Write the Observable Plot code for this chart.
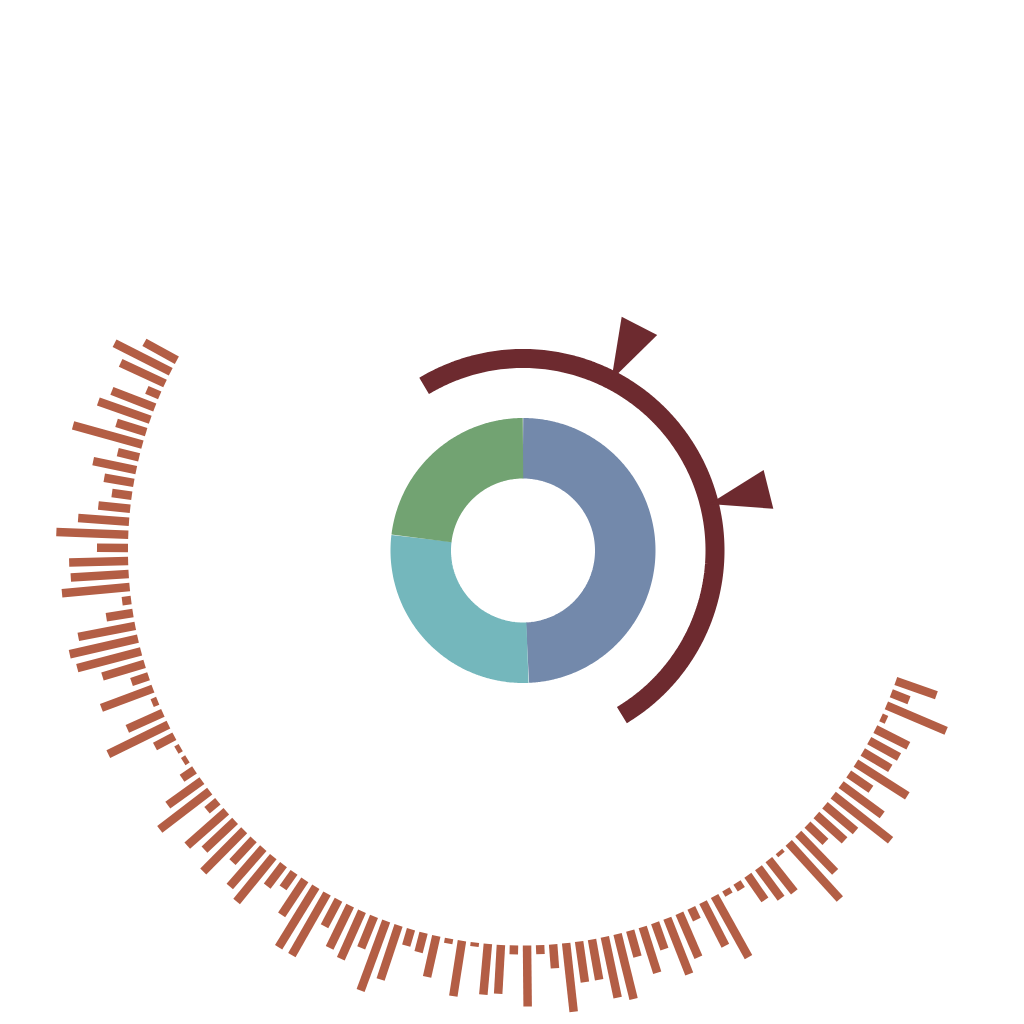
<!DOCTYPE html>
<html>
<head>
<meta charset="utf-8">
<script src="https://cdn.jsdelivr.net/npm/d3@7"></script>
<script src="https://cdn.jsdelivr.net/npm/@observablehq/plot@0.6"></script>
<style>
  html, body { margin: 0; padding: 0; background: #fff; overflow: hidden; }
  #chart svg { display: block; }
</style>
</head>
<body>
<div id="chart"></div>
<script>
// outer ring of bars, read going anticlockwise from the upper left
const barValues = [
  37, 63, 49, 14, 46, 55, 31, 72, 22, 44, 30, 20, 32, 51, 72, 31, 59, 58, 68, 9,
  27, 58, 70, 66, 44, 18, 55, 6, 39, 67, 22, 5, 5, 15, 42, 63, 14, 52, 42, 58,
  31, 51, 58, 27, 19, 42, 71, 71, 30, 47, 52, 34, 74, 57, 17, 20, 42, 5, 56, 4,
  51, 49, 9, 61, 9, 24, 69, 41, 41, 62, 67, 27, 48, 28, 60, 48, 13, 49, 70, 6,
  8, 30, 38, 41, 4, 76, 53, 25, 38, 40, 73, 51, 27, 61, 32, 34, 37, 6, 65, 19, 43
]

// donut in the middle
const sliceNames = ["A", "B", "C"]
const sliceValues = [49.3, 27.6, 23.1]
const sliceColors = ["#7389ab", "#74b7bc", "#72a372"]

// gauge arc (degrees clockwise from top) and its two markers
const gaugeRange = [-31, 149]
const markerAngles = [27.4, 76]

// layout, px from the centre
const PX_PER_DEG = 10
const BAR_R0 = 395, BAR_START = 298.8, BAR_STEP = 1.895
const DONUT_R = 102.25, DONUT_W = 60.5
const GAUGE_R = 192, GAUGE_W = 19

// polar -> lon/lat on the azimuthal projection (pole = centre)
const lon = theta => 180 - theta
const lat = r => 90 - r / PX_PER_DEG
const arcPoints = (a0, a1) => {
  const n = Math.max(2, Math.ceil(Math.abs(a1 - a0)))
  return d3.range(n + 1).map(i => a0 + (a1 - a0) * i / n)
}

const bars = barValues.map((v, i) => ({v, theta: BAR_START - i * BAR_STEP}))

const pie = d3.pie().sort(null)(sliceValues)
const donutRows = pie.flatMap((p, k) =>
  arcPoints(p.startAngle * 180 / Math.PI, p.endAngle * 180 / Math.PI)
    .map(t => ({name: sliceNames[k], theta: t})))

const gaugeRows = arcPoints(gaugeRange[0], gaugeRange[1]).map(t => ({theta: t}))

// pennant, apex on the arc, base pointing outward once rotated
const pennant = {
  draw(ctx) {
    ctx.moveTo(0, 0)
    ctx.lineTo(-20, -61)
    ctx.lineTo(20, -61)
    ctx.closePath()
  }
}

const chart = Plot.plot({
  width: 1024,
  height: 1024,
  marginLeft: 21,
  marginRight: 0,
  marginTop: 76,
  marginBottom: 0,
  projection: {
    type: "azimuthal-equidistant",
    rotate: [0, -90],
    domain: d3.geoCircle().center([0, 90]).radius(474 / PX_PER_DEG).precision(1)()
  },
  color: {domain: sliceNames, range: sliceColors},
  marks: [
    Plot.link(bars, {
      x1: d => lon(d.theta),
      y1: lat(BAR_R0),
      x2: d => lon(d.theta),
      y2: d => lat(BAR_R0 + d.v),
      stroke: "#b35e45",
      strokeWidth: 8.5,
      strokeLinecap: "butt"
    }),
    Plot.line(donutRows, {
      x: d => lon(d.theta),
      y: lat(DONUT_R),
      z: "name",
      stroke: "name",
      strokeWidth: DONUT_W,
      strokeLinecap: "butt",
      strokeLinejoin: "miter"
    }),
    Plot.line(gaugeRows, {
      x: d => lon(d.theta),
      y: lat(GAUGE_R),
      stroke: "#6d2a2f",
      strokeWidth: GAUGE_W,
      strokeLinecap: "butt",
      strokeLinejoin: "miter"
    }),
    Plot.dot(markerAngles, {
      x: t => lon(t),
      y: lat(GAUGE_R),
      symbol: pennant,
      rotate: t => t,
      fill: "#6d2a2f",
      stroke: "none"
    })
  ]
})

d3.select("#chart").append(() => chart)
</script>
</body>
</html>
